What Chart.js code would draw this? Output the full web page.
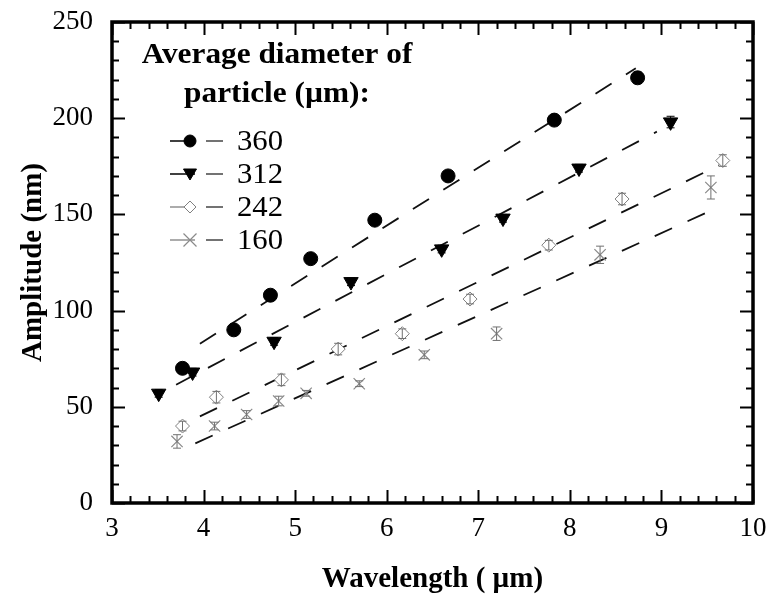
<!DOCTYPE html>
<html><head><meta charset="utf-8">
<script src="https://cdn.jsdelivr.net/npm/chart.js@4/dist/chart.umd.min.js"></script>
<style>html,body{margin:0;padding:0;background:#fff}#wrap{width:773px;height:602px}</style>
</head><body><div id="wrap"><canvas id="c" width="773" height="602"></canvas></div>
<script>
// ---- data ----
const seriesNames = ['360', '312', '242', '160'];
const x360 = [3.77, 4.33, 4.73, 5.17, 5.87, 6.67, 7.83, 8.74];
const y360 = [70, 90, 108, 127, 147, 170, 199, 221];
const e360 = [1.5, 1.5, 1.5, 1.5, 1.5, 1.5, 2, 3];
const x312 = [3.51, 3.88, 4.77, 5.61, 6.60, 7.27, 8.10, 9.10];
const y312 = [57, 68, 84, 115, 132, 148, 174, 198];
const e312 = [2, 2, 2, 2, 2, 2, 2, 3];
const x242 = [3.77, 4.14, 4.85, 5.47, 6.17, 6.91, 7.77, 8.57, 9.67];
const y242 = [40, 55, 64, 80, 88, 106, 134, 158, 178];
const e242 = [2.5, 3, 3, 3, 2.5, 2.5, 2.5, 3, 3];
const x160 = [3.71, 4.12, 4.47, 4.82, 5.12, 5.70, 6.41, 7.20, 8.33, 9.54];
const y160 = [32, 40, 46, 53, 57, 62, 77, 88, 129, 164];
const e160 = [3.5, 2, 2, 2.5, 1.5, 1.5, 2, 3.5, 4.5, 6];
// dashed linear fits (end points)
const fit360X = [3.96, 8.72], fit360Y = [82.8, 226];
const fit312X = [3.70, 8.95], fit312Y = [61.5, 193];
const fit242X = [3.96, 9.63], fit242Y = [45, 175.5];
const fit160X = [3.91, 9.53], fit160Y = [31, 151.7];
// axes
const xTicks = [3, 4, 5, 6, 7, 8, 9, 10];
const yTicks = [0, 50, 100, 150, 200, 250];
const xTitle = 'Wavelength ( \u00b5m)';
const yTitle = 'Amplitude (nm)';
const legendTitle = ['Average diameter of', 'particle (\u00b5m):'];

const pts = (xs, ys) => xs.map((x, i) => ({x: x, y: ys[i]}));
const SERIF = "'Liberation Serif', 'Times New Roman', serif";

const styles = [
  {pointStyle: 'circle', radius: 7, rotation: 0, bg: '#000', border: '#000', bw: 1, err: '#000', lead: '#000'},
  {pointStyle: 'triangle', radius: 8.3, rotation: 180, bg: '#000', border: '#000', bw: 1, err: '#000', lead: '#000'},
  {pointStyle: 'rectRot', radius: 7, rotation: 0, bg: '#fff', border: '#808080', bw: 1, err: '#707070', lead: '#909090'},
  {pointStyle: 'crossRot', radius: 8, rotation: 0, bg: '#fff', border: '#8a8a8a', bw: 1.2, err: '#707070', lead: '#909090'}
];
const errs = [e360, e312, e242, e160];

function scatterDs(i, xs, ys) {
  const s = styles[i];
  return {type: 'scatter', label: seriesNames[i], data: pts(xs, ys), order: 1,
    pointStyle: s.pointStyle, pointRadius: s.radius, pointRotation: s.rotation,
    pointBackgroundColor: s.bg, pointBorderColor: s.border, pointBorderWidth: s.bw,
    pointHoverRadius: s.radius, errors: errs[i], errColor: s.err};
}
function fitDs(xs, ys) {
  return {type: 'line', data: pts(xs, ys), order: 2, showLine: true, pointRadius: 0,
    borderColor: '#111', borderWidth: 1.8, borderDash: [19, 17], fill: false, tension: 0};
}

function stretchText(ctx, text, x, y, sx) {
  ctx.save(); ctx.translate(x, y); ctx.scale(sx, 1); ctx.fillText(text, 0, 0); ctx.restore();
}

const decor = {
  id: 'decor',
  afterDatasetsDraw(chart) {
    const {ctx, scales: {x, y}} = chart;
    ctx.save();
    chart.data.datasets.forEach(ds => {
      if (!ds.errors) return;
      ctx.strokeStyle = ds.errColor; ctx.lineWidth = 1;
      ds.data.forEach((p, i) => {
        const e = ds.errors[i];
        const px = x.getPixelForValue(p.x);
        const y1 = y.getPixelForValue(p.y + e), y2 = y.getPixelForValue(p.y - e);
        ctx.beginPath();
        ctx.moveTo(px, y1); ctx.lineTo(px, y2);
        ctx.moveTo(px - 4, y1); ctx.lineTo(px + 4, y1);
        ctx.moveTo(px - 4, y2); ctx.lineTo(px + 4, y2);
        ctx.stroke();
      });
    });
    ctx.restore();
  },
  afterDraw(chart) {
    const {ctx, chartArea: a, scales: {x, y}} = chart;
    ctx.save();
    // inward ticks on all four sides
    ctx.strokeStyle = '#000'; ctx.lineWidth = 2;
    const major = 13, minor = 7;
    for (let k = 0; k <= (xTicks[xTicks.length - 1] - xTicks[0]) * 5; k++) {
      const v = xTicks[0] + k * 0.2;
      const px = Math.round(x.getPixelForValue(v)) + 0.5;
      const L = (k % 5 === 0) ? major : minor;
      ctx.beginPath();
      ctx.moveTo(px, a.bottom); ctx.lineTo(px, a.bottom - L);
      ctx.moveTo(px, a.top); ctx.lineTo(px, a.top + L);
      ctx.stroke();
    }
    for (let k = 0; k <= (yTicks[yTicks.length - 1] - yTicks[0]) / 10; k++) {
      const v = yTicks[0] + k * 10;
      const py = Math.round(y.getPixelForValue(v)) + 0.5;
      const L = (k % 5 === 0) ? major : minor;
      ctx.beginPath();
      ctx.moveTo(a.left, py); ctx.lineTo(a.left + L, py);
      ctx.moveTo(a.right, py); ctx.lineTo(a.right - L, py);
      ctx.stroke();
    }
    // frame
    ctx.lineWidth = 3.5;
    ctx.strokeRect(a.left, a.top, a.right - a.left, a.bottom - a.top);

    // legend
    ctx.fillStyle = '#000';
    ctx.textAlign = 'center'; ctx.textBaseline = 'alphabetic';
    ctx.font = 'bold 29px ' + SERIF;
    const cx = a.left + 165;
    stretchText(ctx, legendTitle[0], cx, a.top + 41, 1.08);
    stretchText(ctx, legendTitle[1], cx, a.top + 80, 1.08);
    ctx.font = '29px ' + SERIF;
    ctx.textAlign = 'left'; ctx.textBaseline = 'middle';
    seriesNames.forEach((name, i) => {
      const s = styles[i];
      const ry = a.top + 119 + i * 33;
      const lx = a.left + 58;
      ctx.strokeStyle = s.lead; ctx.lineWidth = 1.5;
      ctx.beginPath(); ctx.moveTo(lx, ry); ctx.lineTo(lx + 25, ry); ctx.stroke();
      ctx.strokeStyle = '#444'; ctx.lineWidth = 1.5;
      ctx.beginPath(); ctx.moveTo(lx + 36, ry); ctx.lineTo(lx + 53, ry); ctx.stroke();
      const mx = lx + 20;
      ctx.fillStyle = s.bg; ctx.strokeStyle = s.border; ctx.lineWidth = s.bw;
      ctx.beginPath();
      if (s.pointStyle === 'circle') {
        ctx.arc(mx, ry, 6, 0, Math.PI * 2); ctx.fill(); ctx.stroke();
      } else if (s.pointStyle === 'triangle') {
        ctx.moveTo(mx - 6.5, ry - 5); ctx.lineTo(mx + 6.5, ry - 5); ctx.lineTo(mx, ry + 6); ctx.closePath(); ctx.fill(); ctx.stroke();
      } else if (s.pointStyle === 'rectRot') {
        ctx.moveTo(mx, ry - 6); ctx.lineTo(mx + 6, ry); ctx.lineTo(mx, ry + 6); ctx.lineTo(mx - 6, ry); ctx.closePath(); ctx.fill(); ctx.stroke();
      } else {
        ctx.moveTo(mx - 6.5, ry - 6.5); ctx.lineTo(mx + 6.5, ry + 6.5);
        ctx.moveTo(mx + 6.5, ry - 6.5); ctx.lineTo(mx - 6.5, ry + 6.5); ctx.stroke();
      }
      ctx.fillStyle = '#000';
      stretchText(ctx, name, lx + 67, ry + 1, 1.06);
    });
    ctx.restore();
  }
};

new Chart(document.getElementById('c'), {
  data: {
    datasets: [
      scatterDs(0, x360, y360), scatterDs(1, x312, y312), scatterDs(2, x242, y242), scatterDs(3, x160, y160),
      fitDs(fit360X, fit360Y), fitDs(fit312X, fit312Y), fitDs(fit242X, fit242Y), fitDs(fit160X, fit160Y)
    ]
  },
  options: {
    responsive: false, devicePixelRatio: 1, animation: false,
    layout: {padding: {top: 22, right: 20, left: 0, bottom: 0}},
    plugins: {legend: {display: false}, tooltip: {enabled: false}},
    scales: {
      x: {type: 'linear', position: 'bottom', min: 3, max: 10,
        afterBuildTicks: s => { s.ticks = xTicks.map(v => ({value: v})); },
        afterFit: s => { s.height = 99; s.paddingLeft = 0; s.paddingRight = 0; },
        grid: {display: false, drawTicks: false}, border: {display: false},
        ticks: {color: '#000', font: {family: SERIF, size: 27}, padding: 10, maxRotation: 0},
        title: {display: true, text: xTitle, color: '#000', font: {family: SERIF, size: 29, weight: 'bold'}, padding: {top: 0, bottom: 5}}
      },
      y: {type: 'linear', position: 'left', min: 0, max: 250,
        afterBuildTicks: s => { s.ticks = yTicks.map(v => ({value: v})); },
        afterFit: s => { s.width = 112; s.paddingTop = 0; s.paddingBottom = 0; },
        grid: {display: false, drawTicks: false}, border: {display: false},
        ticks: {color: '#000', font: {family: SERIF, size: 27}, padding: 19},
        title: {display: true, text: yTitle, color: '#000', font: {family: SERIF, size: 29, weight: 'bold'}, padding: {top: 16, bottom: 0}}
      }
    }
  },
  plugins: [decor]
});
</script></body></html>
